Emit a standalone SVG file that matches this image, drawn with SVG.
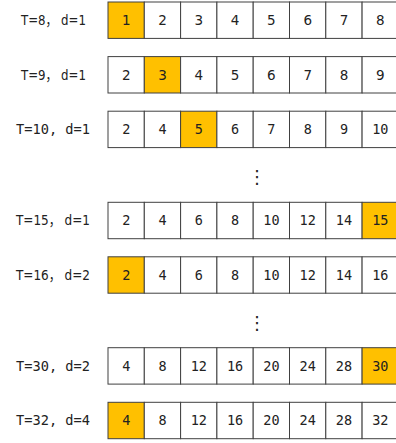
<svg xmlns="http://www.w3.org/2000/svg" width="396" height="443" viewBox="0 0 396 443">
<style>
.c{fill:#fff;stroke:#404040;stroke-width:1}
.h{fill:#FFC000;stroke:#404040;stroke-width:1}
.s{font-family:"DejaVu Sans","Noto Sans CJK SC",sans-serif;font-size:13.5px;fill:#222;text-anchor:middle}
.m{font-family:"DejaVu Sans Mono","Liberation Mono",monospace;font-size:13.5px;fill:#222;text-anchor:middle}
.l{font-family:"DejaVu Sans","Noto Sans CJK SC",sans-serif;font-size:13.5px;fill:#222;text-anchor:middle}
.lm{font-family:"DejaVu Sans Mono","Liberation Mono",monospace;font-size:13.5px;fill:#222;text-anchor:middle}
.d{font-family:"DejaVu Sans",sans-serif;font-size:18px;fill:#222;text-anchor:middle}
</style>
<g id="row1">
<text class="l" x="53.5" y="25" textLength="65" lengthAdjust="spacingAndGlyphs">T=8， d=1</text>
<rect class="h" x="108" y="2" width="36.3" height="36.4"/><rect class="c" x="144.3" y="2" width="36.3" height="36.4"/><rect class="c" x="180.6" y="2" width="36.3" height="36.4"/><rect class="c" x="216.9" y="2" width="36.3" height="36.4"/><rect class="c" x="253.2" y="2" width="36.3" height="36.4"/><rect class="c" x="289.5" y="2" width="36.3" height="36.4"/><rect class="c" x="325.8" y="2" width="36.3" height="36.4"/><rect class="c" x="362.1" y="2" width="36.3" height="36.4"/>
<text class="s" x="126.2" y="25">1</text><text class="s" x="162.5" y="25">2</text><text class="s" x="198.8" y="25">3</text><text class="s" x="235.1" y="25">4</text><text class="s" x="271.4" y="25">5</text><text class="s" x="307.7" y="25">6</text><text class="s" x="344" y="25">7</text><text class="s" x="380.3" y="25">8</text>
</g>
<g id="row2">
<text class="l" x="53.5" y="79.5" textLength="65" lengthAdjust="spacingAndGlyphs">T=9， d=1</text>
<rect class="c" x="108" y="56.6" width="36.3" height="36.4"/><rect class="h" x="144.3" y="56.6" width="36.3" height="36.4"/><rect class="c" x="180.6" y="56.6" width="36.3" height="36.4"/><rect class="c" x="216.9" y="56.6" width="36.3" height="36.4"/><rect class="c" x="253.2" y="56.6" width="36.3" height="36.4"/><rect class="c" x="289.5" y="56.6" width="36.3" height="36.4"/><rect class="c" x="325.8" y="56.6" width="36.3" height="36.4"/><rect class="c" x="362.1" y="56.6" width="36.3" height="36.4"/>
<text class="s" x="126.2" y="79.5">2</text><text class="s" x="162.5" y="79.5">3</text><text class="s" x="198.8" y="79.5">4</text><text class="s" x="235.1" y="79.5">5</text><text class="s" x="271.4" y="79.5">6</text><text class="s" x="307.7" y="79.5">7</text><text class="s" x="344" y="79.5">8</text><text class="s" x="380.3" y="79.5">9</text>
</g>
<g id="row3">
<text class="lm" x="53" y="134" textLength="74" lengthAdjust="spacingAndGlyphs">T=10, d=1</text>
<rect class="c" x="108" y="111.2" width="36.3" height="36.4"/><rect class="c" x="144.3" y="111.2" width="36.3" height="36.4"/><rect class="h" x="180.6" y="111.2" width="36.3" height="36.4"/><rect class="c" x="216.9" y="111.2" width="36.3" height="36.4"/><rect class="c" x="253.2" y="111.2" width="36.3" height="36.4"/><rect class="c" x="289.5" y="111.2" width="36.3" height="36.4"/><rect class="c" x="325.8" y="111.2" width="36.3" height="36.4"/><rect class="c" x="362.1" y="111.2" width="36.3" height="36.4"/>
<text class="m" x="126.2" y="134">2</text><text class="m" x="162.5" y="134">4</text><text class="m" x="198.8" y="134">5</text><text class="m" x="235.1" y="134">6</text><text class="m" x="271.4" y="134">7</text><text class="m" x="307.7" y="134">8</text><text class="m" x="344" y="134">9</text><text class="m" x="380.3" y="134">10</text>
</g>
<text class="d" x="257" y="183">⋮</text>
<g id="row4">
<text class="l" x="53" y="225" textLength="74" lengthAdjust="spacingAndGlyphs">T=15， d=1</text>
<rect class="c" x="108" y="202.3" width="36.3" height="36.4"/><rect class="c" x="144.3" y="202.3" width="36.3" height="36.4"/><rect class="c" x="180.6" y="202.3" width="36.3" height="36.4"/><rect class="c" x="216.9" y="202.3" width="36.3" height="36.4"/><rect class="c" x="253.2" y="202.3" width="36.3" height="36.4"/><rect class="c" x="289.5" y="202.3" width="36.3" height="36.4"/><rect class="c" x="325.8" y="202.3" width="36.3" height="36.4"/><rect class="h" x="362.1" y="202.3" width="36.3" height="36.4"/>
<text class="m" x="126.2" y="225">2</text><text class="m" x="162.5" y="225">4</text><text class="m" x="198.8" y="225">6</text><text class="m" x="235.1" y="225">8</text><text class="m" x="271.4" y="225">10</text><text class="m" x="307.7" y="225">12</text><text class="m" x="344" y="225">14</text><text class="m" x="380.3" y="225">15</text>
</g>
<g id="row5">
<text class="l" x="53" y="279.5" textLength="74" lengthAdjust="spacingAndGlyphs">T=16， d=2</text>
<rect class="h" x="108" y="256.8" width="36.3" height="36.4"/><rect class="c" x="144.3" y="256.8" width="36.3" height="36.4"/><rect class="c" x="180.6" y="256.8" width="36.3" height="36.4"/><rect class="c" x="216.9" y="256.8" width="36.3" height="36.4"/><rect class="c" x="253.2" y="256.8" width="36.3" height="36.4"/><rect class="c" x="289.5" y="256.8" width="36.3" height="36.4"/><rect class="c" x="325.8" y="256.8" width="36.3" height="36.4"/><rect class="c" x="362.1" y="256.8" width="36.3" height="36.4"/>
<text class="m" x="126.2" y="279.5">2</text><text class="m" x="162.5" y="279.5">4</text><text class="m" x="198.8" y="279.5">6</text><text class="m" x="235.1" y="279.5">8</text><text class="m" x="271.4" y="279.5">10</text><text class="m" x="307.7" y="279.5">12</text><text class="m" x="344" y="279.5">14</text><text class="m" x="380.3" y="279.5">16</text>
</g>
<text class="d" x="257" y="329">⋮</text>
<g id="row6">
<text class="lm" x="53" y="370.5" textLength="74" lengthAdjust="spacingAndGlyphs">T=30, d=2</text>
<rect class="c" x="108" y="347.7" width="36.3" height="36.4"/><rect class="c" x="144.3" y="347.7" width="36.3" height="36.4"/><rect class="c" x="180.6" y="347.7" width="36.3" height="36.4"/><rect class="c" x="216.9" y="347.7" width="36.3" height="36.4"/><rect class="c" x="253.2" y="347.7" width="36.3" height="36.4"/><rect class="c" x="289.5" y="347.7" width="36.3" height="36.4"/><rect class="c" x="325.8" y="347.7" width="36.3" height="36.4"/><rect class="h" x="362.1" y="347.7" width="36.3" height="36.4"/>
<text class="m" x="126.2" y="370.5">4</text><text class="m" x="162.5" y="370.5">8</text><text class="m" x="198.8" y="370.5">12</text><text class="m" x="235.1" y="370.5">16</text><text class="m" x="271.4" y="370.5">20</text><text class="m" x="307.7" y="370.5">24</text><text class="m" x="344" y="370.5">28</text><text class="m" x="380.3" y="370.5">30</text>
</g>
<g id="row7">
<text class="lm" x="53" y="425" textLength="74" lengthAdjust="spacingAndGlyphs">T=32, d=4</text>
<rect class="h" x="108" y="402.3" width="36.3" height="36.4"/><rect class="c" x="144.3" y="402.3" width="36.3" height="36.4"/><rect class="c" x="180.6" y="402.3" width="36.3" height="36.4"/><rect class="c" x="216.9" y="402.3" width="36.3" height="36.4"/><rect class="c" x="253.2" y="402.3" width="36.3" height="36.4"/><rect class="c" x="289.5" y="402.3" width="36.3" height="36.4"/><rect class="c" x="325.8" y="402.3" width="36.3" height="36.4"/><rect class="c" x="362.1" y="402.3" width="36.3" height="36.4"/>
<text class="m" x="126.2" y="425">4</text><text class="m" x="162.5" y="425">8</text><text class="m" x="198.8" y="425">12</text><text class="m" x="235.1" y="425">16</text><text class="m" x="271.4" y="425">20</text><text class="m" x="307.7" y="425">24</text><text class="m" x="344" y="425">28</text><text class="m" x="380.3" y="425">32</text>
</g>
</svg>
